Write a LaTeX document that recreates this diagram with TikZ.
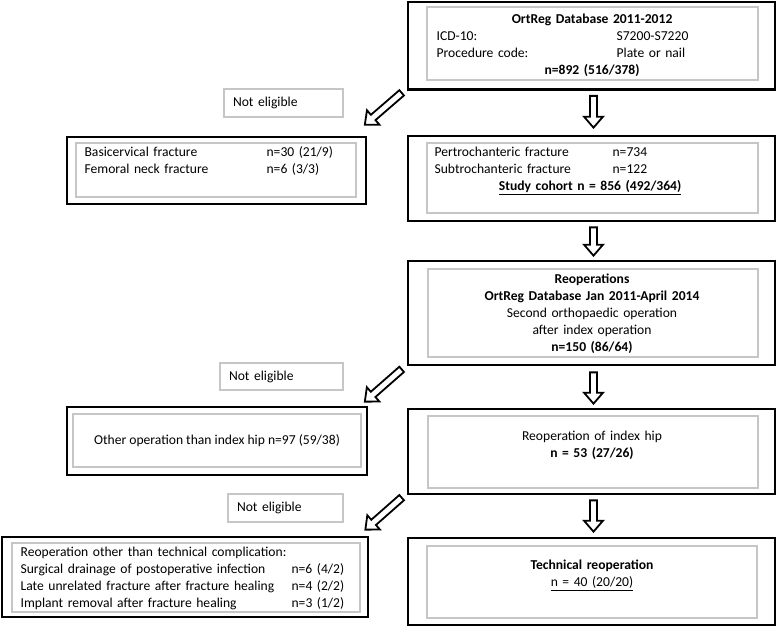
\documentclass[tikz,border=0pt]{standalone}
\usepackage{fontspec}
\setmainfont{Carlito}
\usetikzlibrary{calc}
\tikzset{
  outerbox/.style={draw=black, line width=2.7pt, inner sep=0pt},
  innerbox/.style={draw=gray!45, line width=1.2pt, inner sep=0pt},
  nebox/.style={draw=gray!45, line width=1.2pt, inner ysep=0pt, inner xsep=9pt, align=left},
  txt/.style={inner sep=0pt, font=\fontsize{13.6}{17}\selectfont},
  barrow/.style={draw=black, fill=white, line width=1.8pt, line join=miter},
}
\newcommand\blockarrow[2]{%
  \coordinate (bah) at ($(#2)!11pt!(#1)$);
  \draw[barrow] ($(#1)!3.5pt!90:(#2)$) -- ($(bah)!3.5pt!-90:(#1)$) -- ($(bah)!9.5pt!-90:(#1)$) -- (#2)
    -- ($(bah)!9.5pt!90:(#1)$) -- ($(bah)!3.5pt!90:(#1)$) -- ($(#1)!3.5pt!-90:(#2)$) -- cycle;}
\begin{document}
\begin{tikzpicture}[x=1pt, y=1pt]
\useasboundingbox (0,0) rectangle (778,-627);
\fill[white] (0,0) rectangle (778,-627);

% right column
\node[outerbox, minimum width=367pt, minimum height=87.5pt] (r1) at (591.5,-45.75) {};
\node[innerbox, minimum width=331pt, minimum height=73pt] (r1i) at (592.5,-43.5) {};
\node[txt, anchor=base west, text width=311pt, align=left] (r1t) at ($(r1i.north west)+(10,-17)$)
  {\makebox[311pt]{\bfseries OrtReg Database 2011-2012}\\
   \makebox[180pt][l]{ICD-10:}S7200-S7220\\
   \makebox[180pt][l]{Procedure code:}Plate or nail\\
   \makebox[311pt]{\bfseries n=892 (516/378)}};

\node[outerbox, minimum width=367pt, minimum height=85pt] (r2) at (591.5,-178.5) {};
\node[innerbox, minimum width=331pt, minimum height=70pt] (r2i) at (592.5,-178) {};
\node[txt, anchor=base west, text width=311pt, align=left] (r2t) at ($(r2i.north west)+(8,-14.5)$)
  {\makebox[178pt][l]{Pertrochanteric fracture}n=734\\
   \makebox[178pt][l]{Subtrochanteric fracture}n=122\\
   \makebox[311pt]{\bfseries\underline{Study cohort n = 856 (492/364)}}};

\node[outerbox, minimum width=367pt, minimum height=104pt] (r3) at (591.5,-313) {};
\node[innerbox, minimum width=330pt, minimum height=88pt] (r3i) at (593,-313) {};
\node[txt, anchor=base, text width=310pt, align=center] (r3t) at ($(r3i.north)+(-1,-15)$)
  {{\bfseries Reoperations}\\
   {\bfseries OrtReg Database Jan 2011-April 2014}\\
   {Second orthopaedic operation}\\
   {after index operation}\\
   {\bfseries n=150 (86/64)}};

\node[outerbox, minimum width=367pt, minimum height=85pt] (r4) at (591.5,-451.5) {};
\node[innerbox, minimum width=330pt, minimum height=72pt] (r4i) at (593,-452) {};
\node[txt, anchor=base, text width=310pt, align=center] (r4t) at ($(r4i.north)+(-1,-25.5)$)
  {{Reoperation of index hip}\\ {\bfseries n = 53 (27/26)}};

\node[outerbox, minimum width=367pt, minimum height=87pt] (r5) at (591.5,-581.5) {};
\node[innerbox, minimum width=330pt, minimum height=72pt] (r5i) at (592,-582) {};
\node[txt, anchor=base, text width=310pt, align=center] (r5t) at ($(r5i.north)+(0,-24.5)$)
  {{\bfseries Technical reoperation}\\ {\underline{n = 40 (20/20)}}};

% left column
\node[outerbox, minimum width=299pt, minimum height=67pt] (l1) at (216.5,-170.5) {};
\node[innerbox, minimum width=280pt, minimum height=54pt] (l1i) at (216,-170) {};
\node[txt, anchor=base west, text width=262pt, align=left] (l1t) at ($(l1i.north west)+(9,-14.5)$)
  {\makebox[182pt][l]{Basicervical fracture}n=30 (21/9)\\
   \makebox[182pt][l]{Femoral neck fracture}n=6 (3/3)};

\node[outerbox, minimum width=300pt, minimum height=68pt] (l2) at (217,-441) {};
\node[innerbox, minimum width=288pt, minimum height=53pt] (l2i) at (217,-440.5) {};
\node[txt, anchor=base] (l2t) at ($(l2i.north)+(0,-31.5)$)
  {Other operation than index hip n=97 (59/38)};

\node[outerbox, minimum width=366pt, minimum height=80pt] (l3) at (185,-577) {};
\node[innerbox, minimum width=348pt, minimum height=69pt] (l3i) at (186,-577.5) {};
\node[txt, anchor=base west, text width=335pt, align=left] (l3t) at ($(l3i.north west)+(9,-14)$)
  {Reoperation other than technical complication:\\
   \makebox[271pt][l]{Surgical drainage of postoperative infection}n=6 (4/2)\\
   \makebox[271pt][l]{Late unrelated fracture after fracture healing}n=4 (2/2)\\
   \makebox[271pt][l]{Implant removal after fracture healing}n=3 (1/2)};

% not eligible labels
\node[nebox, txt, inner xsep=9pt, text width=101pt, minimum height=28pt] (ne1) at (283.5,-103) {Not eligible};
\node[nebox, txt, inner xsep=9pt, text width=105pt, minimum height=27pt] (ne2) at (281.5,-376.5) {Not eligible};
\node[nebox, txt, inner xsep=9pt, text width=97pt, minimum height=28pt] (ne3) at (285.5,-508) {Not eligible};

% arrow end points
\coordinate (v1a) at ($(r1.south)+(2,-5)$);
\coordinate (v1b) at ($(r2.north)+(2,7)$);
\coordinate (v2a) at ($(r2.south)+(2,-5)$);
\coordinate (v2b) at ($(r3.north)+(2,4)$);
\coordinate (v3a) at ($(r3.south)+(2,-6)$);
\coordinate (v3b) at ($(r4.north)+(2,4)$);
\coordinate (v4a) at ($(r4.south)+(2,-5)$);
\coordinate (v4b) at ($(r5.north)+(2,5)$);
\coordinate (d1a) at ($(r1.south west)+(-5,-2)$);
\coordinate (d1b) at ($(l1.north east)+(-2.5,11)$);
\coordinate (d2a) at ($(r3.south west)+(-5,-3)$);
\coordinate (d2b) at ($(l2.north east)+(-3.5,4)$);
\coordinate (d3a) at ($(r4.south west)+(-5,-2.3)$);
\coordinate (d3b) at ($(l3.north east)+(-4,6)$);

\blockarrow{v1a}{v1b}
\blockarrow{v2a}{v2b}
\blockarrow{v3a}{v3b}
\blockarrow{v4a}{v4b}
\blockarrow{d1a}{d1b}
\blockarrow{d2a}{d2b}
\blockarrow{d3a}{d3b}
\end{tikzpicture}
\end{document}
